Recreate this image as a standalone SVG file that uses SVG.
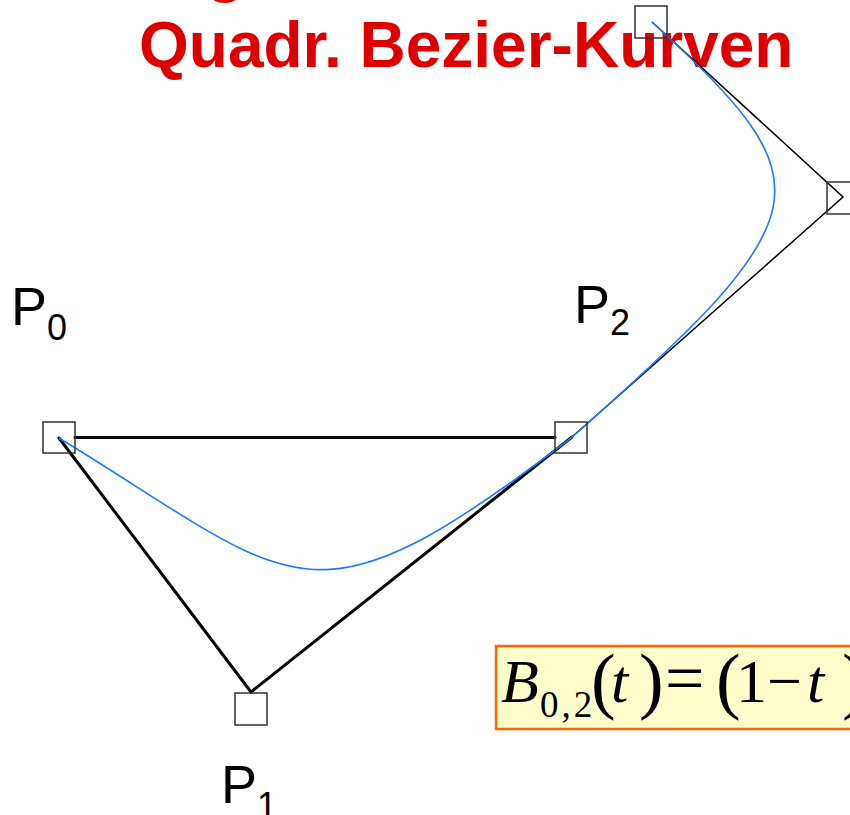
<svg xmlns="http://www.w3.org/2000/svg" width="850" height="815" viewBox="0 0 850 815">
<style>
.title{font-family:"Liberation Sans",Arial,sans-serif;font-weight:bold;font-size:64px;fill:#DD0000}
.lbl{font-family:"Liberation Sans",Arial,sans-serif;font-size:54px;fill:#000}
.sub{font-size:36px}
.box{fill:none;stroke:#333;stroke-width:1.5}
.thick{stroke:#000;stroke-width:3;fill:none;stroke-linecap:round}
.thin{stroke:#000;stroke-width:1.5;fill:none}
.curve{stroke:#1e78ff;stroke-width:1.6;fill:none}
.mi{font-family:"Liberation Serif","Times New Roman",serif;font-style:italic;fill:#000}
.mr{font-family:"Liberation Serif","Times New Roman",serif;fill:#000}
</style>
<rect width="850" height="815" fill="#fff"/>
<g id="title">
<text class="title" x="206" y="-10">g</text>
<text class="title" x="139" y="67">Quadr. Bezier-Kurven</text>
</g>
<g id="connectors">
<line class="thick" x1="75" y1="437.5" x2="555" y2="437.5"/>
<line class="thick" x1="59" y1="438" x2="251" y2="692"/>
<line class="thick" x1="251" y1="692" x2="572" y2="437"/>
<polyline class="thin" points="572,437 843,197 652,22"/>
<path class="curve" d="M59,438 C300,585 306,640 571,438"/>
<path class="curve" d="M571,438 C824,214 830,185 652,22"/>
</g>
<g id="P0">
<rect class="box" x="43" y="422" width="32" height="31"/>
<text class="lbl" x="11" y="325">P<tspan class="sub" x="47" y="340">0</tspan></text>
</g>
<g id="P1">
<rect class="box" x="235" y="693" width="32" height="32"/>
<text class="lbl" x="221" y="803">P<tspan class="sub" x="257" y="818">1</tspan></text>
</g>
<g id="P2">
<rect class="box" x="555" y="422" width="32" height="31"/>
<text class="lbl" x="574" y="323">P<tspan class="sub" x="610" y="335">2</tspan></text>
</g>
<g id="P3">
<rect class="box" x="635" y="6" width="32" height="32"/>
</g>
<g id="P4">
<rect class="box" x="827" y="182" width="32" height="32"/>
</g>
<g id="formula">
<rect x="496" y="646" width="370" height="83" fill="#FFFFCC" stroke="#FF6600" stroke-width="2.5"/>
<text class="mi" x="501" y="702" font-size="62">B</text>
<text class="mr" x="540" y="717" font-size="37" letter-spacing="3">0,2</text>
<text class="mr" x="591" y="705" font-size="74">(</text>
<text class="mi" x="611" y="702" font-size="62">t</text>
<text class="mr" x="639" y="705" font-size="74">)</text>
<text class="mr" x="665" y="702" font-size="70">=</text>
<text class="mr" x="716" y="705" font-size="74">(</text>
<text class="mr" x="736" y="702" font-size="62">1</text>
<text class="mr" x="767" y="702" font-size="62">−</text>
<text class="mi" x="807" y="702" font-size="62">t</text>
<text class="mr" x="842" y="705" font-size="74">)</text>
</g>
</svg>
